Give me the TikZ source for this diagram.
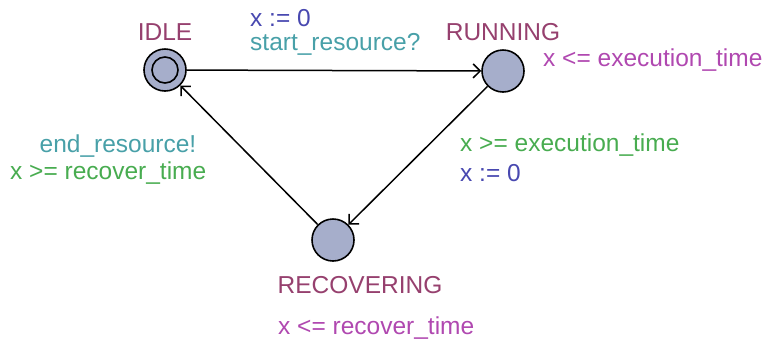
\documentclass[tikz,border=0pt]{standalone}
\usepackage{fontspec}
\setmainfont{Liberation Sans}
\usetikzlibrary{positioning, calc}
\usetikzlibrary{arrows.meta}

\definecolor{locname}{RGB}{150,64,110}
\definecolor{assign}{RGB}{72,72,176}
\definecolor{sync}{RGB}{72,160,168}
\definecolor{guard}{RGB}{72,172,80}
\definecolor{invar}{RGB}{176,72,176}
\definecolor{locfill}{RGB}{166,174,203}

\tikzset{
  loc/.style={circle,draw,fill=locfill,line width=1.6pt,minimum size=42pt,inner sep=0pt},
  lbl/.style={inner sep=0pt,font=\fontsize{24.5}{28}\selectfont},
  trans/.style={-{Straight Barb[length=7pt,width=14pt,line width=1.5pt]},line width=1.5pt}
}

\begin{document}
\begin{tikzpicture}[x=1pt,y=-1pt]
\useasboundingbox (0,0) rectangle (765,341);
\draw 	(165,70) node[loc](idle){}   (503,71) node[loc](running){}
  		(333,240) node[loc](recovering){};
\draw[line width=1.6pt] (idle) circle (13pt);
\path
     (idle) edge[trans] node {} (running)
     (running) edge[trans] node {} (recovering)
     (recovering) edge[trans] node {} (idle);

% location names and invariants
\node[lbl,text=locname] (idlename) at (165,32) {IDLE};
\node[lbl,text=locname] (runname) at (503,32) {RUNNING};
\node[lbl,text=locname] (recname) at (360,285) {RECOVERING};
\node[lbl,text=invar,anchor=west] (runinv) at (543,60) {x <= execution\_time};
\node[lbl,text=invar,anchor=west] (recinv) at (278,328) {x <= recover\_time};

% transition labels
\node[lbl,text=assign,anchor=west] (upd1) at (250,18) {x := 0};
\node[lbl,text=sync,anchor=west] (sync1) at (250,44) {start\_resource?};
\node[lbl,text=guard,anchor=west] (guard2) at (460,145) {x >= execution\_time};
\node[lbl,text=assign,anchor=west] (upd2) at (460,173) {x := 0};
\node[lbl,text=sync] (sync3) at (118,146) {end\_resource!};
\node[lbl,text=guard,anchor=west] (guard3) at (10,173) {x >= recover\_time};
\end{tikzpicture}
\end{document}
